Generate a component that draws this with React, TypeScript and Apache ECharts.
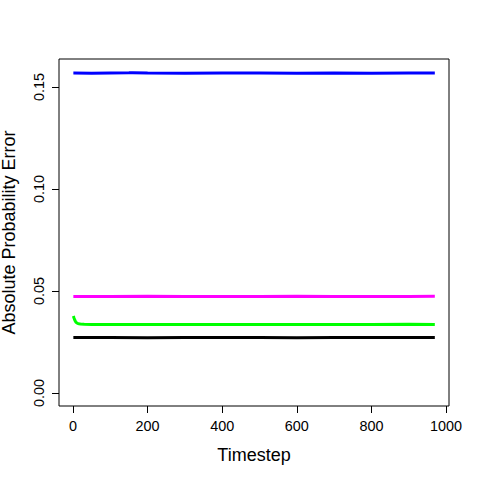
import React, { useEffect, useRef } from "react";
import * as echarts from "echarts";

const blueT = [1, 50, 100, 150, 160, 200, 300, 400, 500, 600, 700, 800, 900, 970];
const blueV = [0.1568, 0.1567, 0.1568, 0.1569, 0.1570, 0.1568, 0.1567, 0.1568, 0.1568, 0.1567, 0.1568, 0.1567, 0.1568, 0.1568];

const magentaT = [1, 100, 200, 300, 400, 500, 600, 700, 800, 900, 970];
const magentaV = [0.0473, 0.0473, 0.0474, 0.0473, 0.0473, 0.0473, 0.0474, 0.0473, 0.0473, 0.0473, 0.0474];

const greenT = [1, 3, 5, 8, 12, 16, 20, 30, 50, 100, 200, 300, 400, 500, 600, 700, 800, 900, 970];
const greenV = [0.0377, 0.0366, 0.0356, 0.0346, 0.0341, 0.0339, 0.0338, 0.0337, 0.0336, 0.0336, 0.0336, 0.0336, 0.0336, 0.0336, 0.0336, 0.0336, 0.0336, 0.0337, 0.0336];

const blackT = [1, 100, 200, 300, 400, 500, 600, 700, 800, 900, 970];
const blackV = [0.0272, 0.0272, 0.0271, 0.0272, 0.0272, 0.0272, 0.0271, 0.0272, 0.0272, 0.0272, 0.0272];

const xTicks = [0, 200, 400, 600, 800, 1000];
const xTickLabels = ["0", "200", "400", "600", "800", "1000"];
const yTicks = [0, 0.05, 0.1, 0.15];
const yTickLabels = ["0.00", "0.05", "0.10", "0.15"];

const FONT = "'Liberation Sans', Arial, Helvetica, sans-serif";

function pairs(t: number[], v: number[]) {
  return t.map((x, i) => [x, v[i]]);
}

function lookup(ticks: number[], labels: string[], val: number) {
  const i = ticks.findIndex((t) => Math.abs(t - val) < 1e-9 * Math.max(1, Math.abs(t)));
  return i >= 0 ? labels[i] : "";
}

export default function App() {
  const ref = useRef<HTMLDivElement>(null);
  useEffect(() => {
    document.body.style.margin = "0";
    const chart = echarts.init(ref.current!, null, { renderer: "svg" });
    const mk = (name: string, t: number[], v: number[], color: string) => ({
      name,
      type: "line",
      data: pairs(t, v),
      showSymbol: false,
      symbol: "none",
      smooth: false,
      lineStyle: { color, width: 3 },
      silent: true,
    });
    chart.setOption({
      animation: false,
      backgroundColor: "#ffffff",
      grid: {
        left: 59,
        right: 31,
        top: 59,
        bottom: 74,
        show: true,
        borderColor: "#000000",
        borderWidth: 1,
        backgroundColor: "transparent",
        containLabel: false,
        outerBoundsMode: "none",
      },
      xAxis: {
        type: "value",
        min: -37.5,
        max: 1008,
        name: "Timestep",
        nameLocation: "middle",
        nameGap: 40,
        nameTextStyle: { fontFamily: FONT, fontSize: 18, color: "#000" },
        axisLine: { show: false, onZero: false },
        splitLine: { show: false },
        axisTick: {
          show: true,
          length: 7,
          inside: false,
          customValues: xTicks,
          lineStyle: { color: "#000" },
        },
        axisLabel: {
          show: true,
          customValues: xTicks,
          fontFamily: FONT,
          fontSize: 14.4,
          color: "#000",
          margin: 13,
          formatter: (val: number) => lookup(xTicks, xTickLabels, val),
        },
      },
      yAxis: {
        type: "value",
        min: -0.0064,
        max: 0.1637,
        name: "Absolute Probability Error",
        nameLocation: "middle",
        nameGap: 41,
        nameTextStyle: { fontFamily: FONT, fontSize: 18, color: "#000" },
        axisLine: { show: false, onZero: false },
        splitLine: { show: false },
        axisTick: {
          show: true,
          length: 7,
          inside: false,
          customValues: yTicks,
          lineStyle: { color: "#000" },
        },
        axisLabel: {
          show: true,
          customValues: yTicks,
          rotate: 90,
          fontFamily: FONT,
          fontSize: 14.4,
          color: "#000",
          margin: 13,
          formatter: (val: number) => lookup(yTicks, yTickLabels, val),
        },
      },
      series: [
        mk("blue", blueT, blueV, "#0000FF"),
        mk("magenta", magentaT, magentaV, "#FF00FF"),
        mk("green", greenT, greenV, "#00FF00"),
        mk("black", blackT, blackV, "#000000"),
      ],
    });
    return () => chart.dispose();
  }, []);
  return <div ref={ref} style={{ width: 480, height: 480 }} />;
}
